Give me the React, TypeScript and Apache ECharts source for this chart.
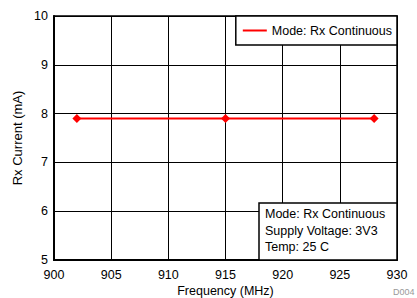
import React, { useEffect, useRef } from "react";
import * as echarts from "echarts";

const frequencies = [902, 915, 928];
const rxCurrent = [7.9, 7.9, 7.9];
const seriesName = "Mode: Rx Continuous";
const noteLines = ["Mode: Rx Continuous", "Supply Voltage: 3V3", "Temp: 25 C"];

export default function App() {
  const ref = useRef<HTMLDivElement>(null);
  useEffect(() => {
    if (!ref.current) return;
    const chart = echarts.init(ref.current, null, { renderer: "svg" });
    const font = "Liberation Sans, Arial, sans-serif";
    chart.setOption({
      animation: false,
      backgroundColor: "#fff",
      textStyle: { fontFamily: font },
      grid: {
        left: 54,
        right: 20,
        top: 16,
        bottom: 38,
        show: true,
        borderColor: "#000",
        borderWidth: 1.5,
        outerBoundsMode: "none",
        containLabel: false,
      },
      legend: {
        right: 20,
        top: 16,
        icon: "rect",
        itemWidth: 24,
        itemHeight: 2,
        itemGap: 6,
        padding: [8, 5, 8, 7],
        borderColor: "#000",
        borderWidth: 1.5,
        backgroundColor: "#fff",
        textStyle: { fontFamily: font, fontSize: 12.5, color: "#000" },
        data: [seriesName],
      },
      xAxis: {
        type: "value",
        min: 900,
        max: 930,
        interval: 5,
        name: "Frequency (MHz)",
        nameLocation: "middle",
        nameGap: 24,
        nameMoveOverlap: false,
        nameTextStyle: { fontFamily: font, fontSize: 12.5, color: "#000" },
        axisLine: { show: true, lineStyle: { color: "#000", width: 2 } },
        axisTick: { show: false },
        axisLabel: { fontFamily: font, fontSize: 12.5, color: "#000", margin: 8 },
        splitLine: { show: true, lineStyle: { color: "#000", width: 1 } },
      },
      yAxis: {
        type: "value",
        min: 5,
        max: 10,
        interval: 1,
        name: "Rx Current (mA)",
        nameLocation: "middle",
        nameGap: 30,
        nameMoveOverlap: false,
        nameTextStyle: { fontFamily: font, fontSize: 13, color: "#000" },
        axisLine: { show: true, lineStyle: { color: "#000", width: 2 } },
        axisTick: { show: false },
        axisLabel: { fontFamily: font, fontSize: 12.5, color: "#000", margin: 6 },
        splitLine: { show: true, lineStyle: { color: "#000", width: 1 } },
      },
      series: [
        {
          name: seriesName,
          type: "line",
          data: frequencies.map((f, i) => [f, rxCurrent[i]]),
          symbol: "diamond",
          symbolSize: 9,
          lineStyle: { color: "#ff0000", width: 2 },
          itemStyle: { color: "#ff0000" },
        },
      ],
      graphic: [
        {
          type: "rect",
          shape: { x: 259, y: 203, width: 138, height: 57 },
          style: { fill: "#fff", stroke: "#000", lineWidth: 1.5 },
          z: 100,
        },
        {
          type: "text",
          x: 265,
          y: 206,
          z: 101,
          style: {
            text: noteLines.join("\n"),
            fontFamily: font,
            fontSize: 12.5,
            lineHeight: 16.5,
            fill: "#000",
          },
        },
        {
          type: "text",
          x: 393,
          y: 287,
          style: { text: "D004", fontFamily: font, fontSize: 9, fill: "#999" },
        },
      ],
    });
    return () => chart.dispose();
  }, []);
  return <div ref={ref} style={{ width: 417, height: 298, position: "absolute", left: 0, top: 0 }} />;
}
